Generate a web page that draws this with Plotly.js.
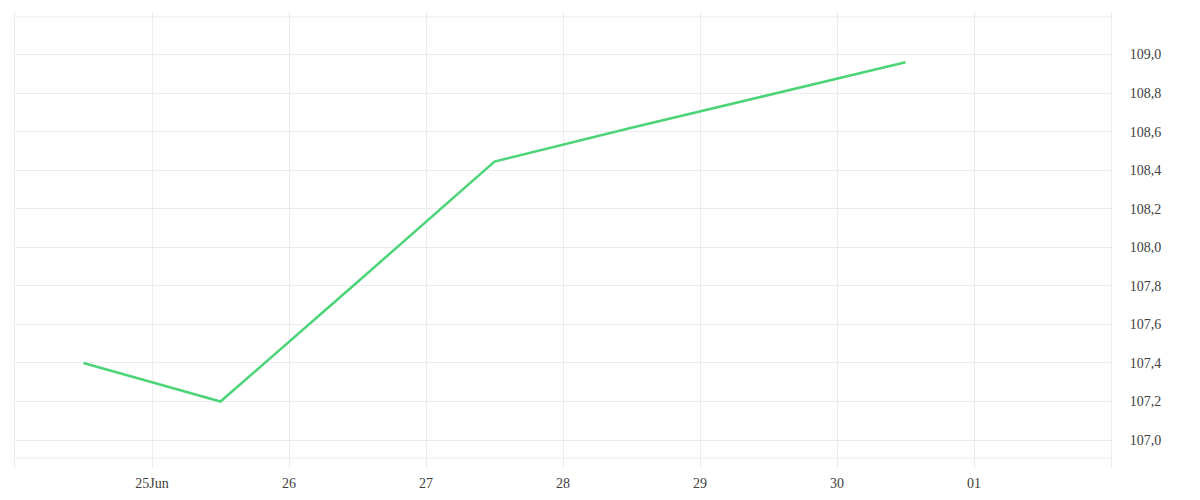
<!DOCTYPE html>
<html>
<head>
<meta charset="utf-8">
<script src="https://cdn.plot.ly/plotly-3.0.1.min.js"></script>
<style>html,body{margin:0;padding:0;background:#fff;}#chart{width:1200px;height:500px;}</style>
</head>
<body>
<div id="chart"></div>
<script>
// Data
var dates = ['2024-06-24 12:00','2024-06-25 12:00','2024-06-26 12:00','2024-06-27 12:00','2024-06-28 12:00','2024-06-29 12:00','2024-06-30 12:00'];
var values = [107.40, 107.20, 107.82, 108.445, 108.62, 108.79, 108.96];

var xTickVals = ['2024-06-24','2024-06-25','2024-06-26','2024-06-27','2024-06-28','2024-06-29','2024-06-30','2024-07-01','2024-07-02'];
var xTickText = ['','25Jun','26','27','28','29','30','01',''];
var yTickVals = [107.0,107.2,107.4,107.6,107.8,108.0,108.2,108.4,108.6,108.8,109.0];

var gridColor = '#ececec';
var fontFam = 'Liberation Serif';

var trace = {
  x: dates, y: values, type: 'scatter', mode: 'lines',
  line: {color: '#4cd479', width: 2.5},
  hoverinfo: 'skip'
};

var layout = {
  width: 1200, height: 500,
  margin: {l: 15, r: 89, t: 12, b: 32},
  paper_bgcolor: '#ffffff', plot_bgcolor: '#ffffff',
  separators: ',.',
  showlegend: false,
  font: {family: fontFam, size: 14, color: '#404040'},
  xaxis: {
    type: 'date',
    range: ['2024-06-24', '2024-07-02'],
    tickmode: 'array', tickvals: xTickVals, ticktext: xTickText,
    showgrid: true, gridcolor: gridColor, gridwidth: 1,
    zeroline: false, showline: false, ticks: '',
    ticklabelstandoff: 5,
    tickfont: {family: fontFam, size: 14, color: '#404040'}
  },
  yaxis: {
    side: 'right',
    range: [106.855, 109.221],
    tickmode: 'array', tickvals: yTickVals,
    tickformat: '.1f',
    showgrid: true, gridcolor: gridColor, gridwidth: 1,
    zeroline: false, showline: true, mirror: true, linecolor: gridColor, linewidth: 1,
    ticks: '', ticklabelstandoff: 15,
    tickfont: {family: fontFam, size: 14, color: '#404040'}
  },
  shapes: [
    {type: 'line', xref: 'paper', yref: 'paper', x0: 0, x1: 1, y0: 0.989, y1: 0.989, line: {color: gridColor, width: 1}, layer: 'below'},
    {type: 'line', xref: 'paper', yref: 'paper', x0: 0, x1: 1, y0: 0.022, y1: 0.022, line: {color: gridColor, width: 1}, layer: 'below'}
  ]
};

Plotly.newPlot('chart', [trace], layout, {staticPlot: true, displayModeBar: false});
</script>
</body>
</html>
